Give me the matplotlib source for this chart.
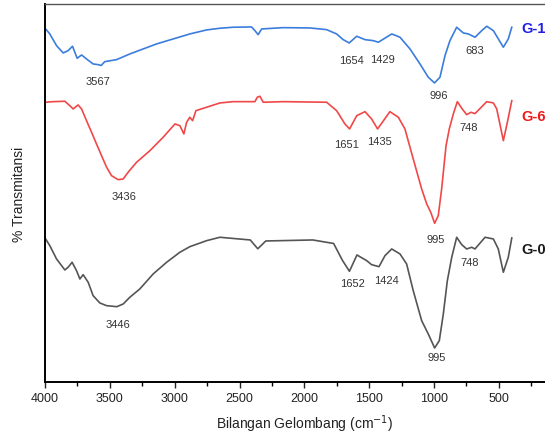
import matplotlib
matplotlib.use("Agg")
import matplotlib.pyplot as plt
from matplotlib.ticker import MultipleLocator

plt.rcParams["font.family"] = ["Liberation Sans", "DejaVu Sans"]

# wavenumber (cm-1) and transmittance (arbitrary units, stacked offsets)
wn_g1 = [4000, 3963, 3911, 3860, 3822, 3788, 3752, 3718, 3680, 3629, 3590, 3567,
         3539, 3448, 3346, 3243, 3140, 3012, 2883, 2754, 2651, 2549, 2407, 2381,
         2356, 2329, 2163, 1957, 1828, 1751, 1700, 1654, 1596, 1532, 1468, 1429,
         1326, 1262, 1185, 1108, 1044, 996, 954, 915, 877, 825, 774, 735, 683,
         632, 593, 542, 465, 427, 400]
t_g1 = [353.7, 348, 336.3, 329, 331.3, 335.7, 323.7, 327, 323, 318, 317.3, 316.5,
        320.3, 322.3, 328, 333, 338, 343, 348, 352, 353.7, 354.7, 355, 351.3,
        347.3, 353, 354.3, 354, 352.3, 348, 342.3, 339, 345.7, 342.3, 341.3, 339.7,
        348, 344.7, 333, 318, 304.7, 299, 304.7, 326.3, 341.3, 354.7, 349, 348, 344.7,
        351.3, 355.7, 351.3, 334.7, 343, 354.7]

wn_g6 = [4000, 3937, 3847, 3809, 3783, 3745, 3718, 3680, 3641, 3603, 3564, 3525,
         3487, 3436, 3397, 3359, 3294, 3191, 3089, 2998, 2960, 2929, 2908, 2883,
         2862, 2836, 2754, 2651, 2549, 2381, 2363, 2343, 2317, 2163, 1828, 1751,
         1687, 1651, 1596, 1532, 1481, 1435, 1340, 1275, 1224, 1160, 1095, 1056,
         1025, 995, 967, 941, 907, 882, 851, 820, 786, 748, 714, 684, 593, 542,
         516, 465, 434, 400]
t_g6 = [279.7, 280.3, 280.7, 276.3, 273, 277, 273, 261.3, 249.7, 238, 226.3, 214.7,
        206.3, 202.3, 203, 209.7, 219.7, 231.3, 244.7, 258, 256.3, 248, 259.7, 264.7,
        261.3, 271.3, 274.7, 279, 280.3, 280.3, 284.7, 285.7, 279.7, 280.3, 279.7, 271.3,
        258, 253, 266.3, 270.3, 263, 253, 270.3, 264.7, 253, 223, 193, 178,
        169.7, 158.7, 166.3, 193, 236.3, 253, 268, 280.3, 273.7, 267.3, 269.7, 268.3, 280.3, 279,
        273, 241.3, 259.7, 281.3]

wn_g0 = [4000, 3963, 3911, 3847, 3822, 3791, 3757, 3731, 3706, 3667, 3629, 3577,
         3525, 3446, 3397, 3346, 3269, 3166, 3062, 2960, 2883, 2754, 2651, 2417,
         2359, 2297, 1935, 1774, 1707, 1652, 1594, 1519, 1481, 1424, 1378, 1326,
         1262, 1211, 1160, 1095, 1044, 995, 959, 928, 897, 863, 825, 786, 748,
         709, 684, 606, 542, 504, 465, 427, 400]
t_g0 = [144, 136.3, 123, 112, 114.7, 119.7, 111.3, 103, 107.3, 99.7, 86.3, 79,
        76.3, 75.3, 78, 84.7, 93, 108, 119.7, 129.7, 135.3, 141.3, 144.7, 142,
        133.2, 141, 142, 138.5, 121.8, 110.7, 127, 121.3, 117.3, 115.3, 126.3, 133,
        128, 118, 91.3, 61.3, 48, 34, 41.3, 68, 101.3, 124.7, 144.7, 137.3, 133,
        134.7, 133, 144.7, 143, 133, 109.7, 124.7, 144]

# peak annotations: (text, wavenumber, height)
peaks_g1 = [("3567", 3590, 300.7), ("1654", 1634, 322.2), ("1429", 1399, 323.2),
            ("996", 961, 287), ("683", 689, 332)]
peaks_g6 = [("3436", 3392, 185.7), ("1651", 1674, 238), ("1435", 1417, 240.7),
            ("995", 985, 143), ("748", 735, 254.7)]
peaks_g0 = [("3446", 3436, 58), ("1652", 1627, 99.2), ("1424", 1365, 102),
            ("995", 979, 24.7), ("748", 728, 119.7)]

x_ticks = [4000, 3500, 3000, 2500, 2000, 1500, 1000, 500]

series = [
    ("G-1", wn_g1, t_g1, peaks_g1, "#3b7ddd", "#1f1fe8", 354),
    ("G-6", wn_g6, t_g6, peaks_g6, "#f04848", "#f01a1a", 266),
    ("G-0", wn_g0, t_g0, peaks_g0, "#555555", "#1a1a1a", 133),
]

fig = plt.figure(figsize=(5.45, 4.39), dpi=100)
ax = fig.add_axes([0.0826, 0.1276, 0.9516, 0.86])

for name, wn, t, peaks, line_color, text_color, label_y in series:
    ax.plot(wn, t, color=line_color, lw=1.2, solid_joinstyle="round")
    for txt, x, y in peaks:
        ax.text(x, y, txt, fontsize=8, color="#333333", ha="center", va="center")
    ax.text(323, label_y, name, fontsize=10.5, fontweight="bold",
            color=text_color, ha="left", va="center")

ax.set_xlim(4000, 0)
ax.set_ylim(0, 377.5)
ax.set_xticks(x_ticks)
ax.xaxis.set_minor_locator(MultipleLocator(250))
ax.tick_params(axis="x", which="major", direction="out", length=4, width=1,
               labelsize=9, colors="#222222")
ax.tick_params(axis="x", which="minor", direction="out", length=3, width=1)
ax.set_yticks([])
ax.spines["right"].set_visible(False)
ax.spines["left"].set_linewidth(1.4)
ax.spines["bottom"].set_linewidth(1.4)
ax.spines["top"].set_linewidth(1.0)
ax.spines["top"].set_color("#555555")

ax.set_xlabel("Bilangan Gelombang (cm$^{-1}$)", fontsize=10, color="#222222", labelpad=6)
ax.set_ylabel("% Transmitansi", fontsize=10, color="#222222", labelpad=14)

fig.savefig("out.png", dpi=100)
